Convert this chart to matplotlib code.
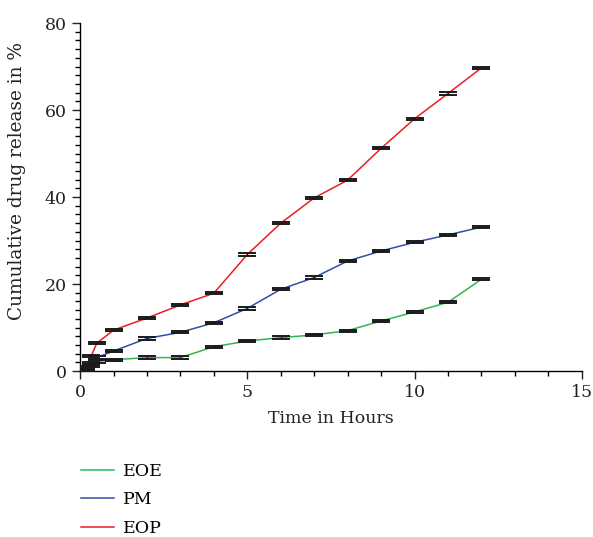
import matplotlib.pyplot as plt
from matplotlib.ticker import MultipleLocator

plt.rcParams["font.family"] = ["DejaVu Serif"]

# Sampling times (hours) and cumulative release (%)
hours = [0, 0.17, 0.33, 0.5, 1, 2, 3, 4, 5, 6, 7, 8, 9, 10, 11, 12]
eoe = [0, 0.5, 1.2, 2.2, 2.6, 3.1, 3.1, 5.6, 6.9, 7.7, 8.3, 9.3, 11.5, 13.6, 15.8, 21.1]
pm = [0, 0.8, 1.8, 3.1, 4.6, 7.5, 8.9, 11.1, 14.4, 18.8, 21.5, 25.3, 27.6, 29.6, 31.3, 33.1]
eop = [0, 0.3, 3.4, 6.4, 9.4, 12.2, 15.2, 17.9, 26.8, 34.0, 39.8, 43.9, 51.2, 58.0, 63.8, 69.7]
sd = [0.25] * len(hours)

series = [("EOE", eoe, "#2fb84b"), ("PM", pm, "#2f4fa8"), ("EOP", eop, "#ec1c24")]

fig = plt.figure(figsize=(5.93, 5.37), dpi=100)
ax = fig.add_axes([0.135, 0.309, 0.846, 0.648])

handles = []
for name, vals, col in series:
    line, = ax.plot(hours, vals, color=col, linewidth=1.1, label=name, zorder=2)
    handles.append(line)
    ax.errorbar(hours, vals, yerr=sd, fmt="none", ecolor="#1a1a1a",
                elinewidth=0.8, capsize=6.5, capthick=1.4, zorder=3)

ax.set_xlim(0, 15)
ax.set_ylim(0, 80)
ax.xaxis.set_major_locator(MultipleLocator(5))
ax.xaxis.set_minor_locator(MultipleLocator(1))
ax.yaxis.set_major_locator(MultipleLocator(20))
ax.yaxis.set_minor_locator(MultipleLocator(2))
ax.tick_params(which="major", direction="out", length=6, width=1, labelsize=12.5,
               colors="#222222")
ax.tick_params(which="minor", direction="out", length=3.5, width=1)

for side in ["top", "right"]:
    ax.spines[side].set_visible(False)
for side in ["left", "bottom"]:
    ax.spines[side].set_linewidth(1)

ax.set_xlabel("Time in Hours", fontsize=12.5, color="#222222", labelpad=6)
ax.set_ylabel("Cumulative drug release in %", fontsize=13.3, color="#222222")
ax.yaxis.set_label_coords(-0.108, 0.545)

fig.legend(handles=handles, loc="upper left", bbox_to_anchor=(0.125, 0.151),
           frameon=False, fontsize=12.5, handlelength=1.9, handletextpad=0.5,
           labelspacing=0.66, borderaxespad=0)

fig.savefig("out.png", dpi=100)
